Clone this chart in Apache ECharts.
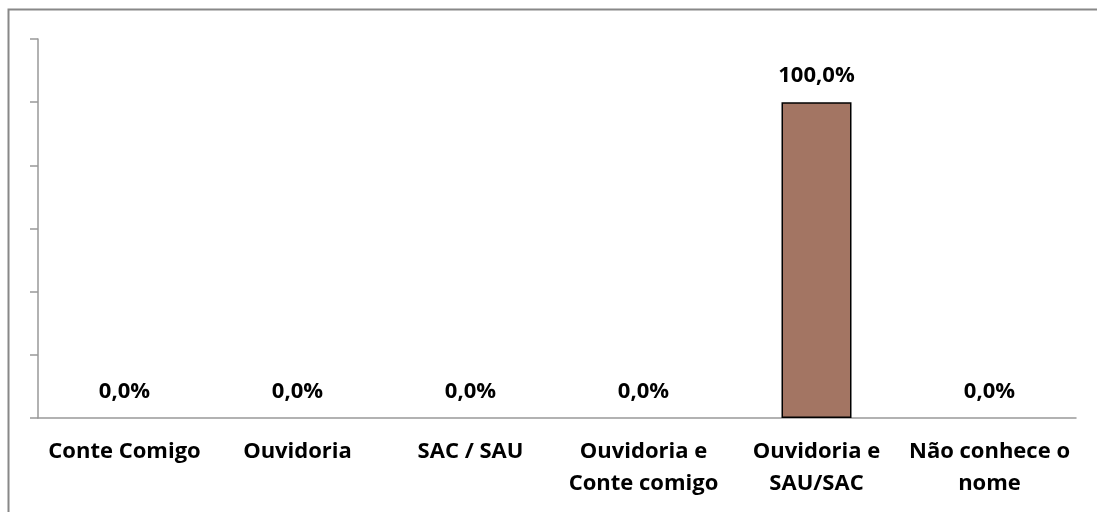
<!DOCTYPE html>
<html>
<head>
<meta charset="utf-8">
<script src="https://cdn.jsdelivr.net/npm/echarts@6/dist/echarts.min.js"></script>
<style>
  html, body { margin: 0; padding: 0; background: #fff; }
  #chart { width: 1097px; height: 512px; }
</style>
</head>
<body>
<div id="chart"></div>
<script>
const categories = ['Conte Comigo', 'Ouvidoria', 'SAC / SAU', 'Ouvidoria e\nConte comigo', 'Ouvidoria e\nSAU/SAC', 'Não conhece o\nnome']
const values = [0, 0, 0, 0, 100, 0]

const font = '"Open Sans", "Liberation Sans", sans-serif'

const chart = echarts.init(document.getElementById('chart'))

// zero-height bars should not draw their border as a line on the axis
const barData = values.map((v) => ({
  value: v,
  itemStyle: v === 0 ? { borderWidth: 0 } : undefined
}))

chart.setOption({
  animation: false,
  graphic: [{
    type: 'rect',
    shape: { x: 8.5, y: 9.5, width: 1200, height: 600 },
    style: { fill: 'none', stroke: '#888', lineWidth: 2 },
    silent: true
  }],
  grid: { left: 38, right: 21, top: 39, bottom: 94 },
  xAxis: {
    type: 'category',
    data: categories,
    axisLine: { lineStyle: { color: '#999', width: 1.5 } },
    axisTick: { length: 7, lineStyle: { color: '#999', width: 1.5 } },
    axisLabel: {
      color: '#000',
      fontFamily: font,
      fontWeight: 'bold',
      fontSize: 22,
      lineHeight: 32,
      margin: 18,
      interval: 0
    }
  },
  yAxis: {
    type: 'value',
    min: 0,
    max: 120,
    interval: 20,
    splitLine: { show: false },
    axisLine: { show: true, lineStyle: { color: '#999', width: 1.5 } },
    axisTick: { show: true, length: 8, lineStyle: { color: '#999', width: 1.5 } },
    axisLabel: { show: false }
  },
  series: [{
    type: 'bar',
    data: barData,
    barWidth: 70,
    itemStyle: { color: '#A37563', borderColor: '#000', borderWidth: 1.5 },
    label: {
      show: true,
      position: 'top',
      distance: 15,
      color: '#000',
      fontFamily: font,
      fontWeight: 'bold',
      fontSize: 22,
      formatter: (p) => p.value.toFixed(1).replace('.', ',') + '%'
    }
  }]
})
</script>
</body>
</html>
